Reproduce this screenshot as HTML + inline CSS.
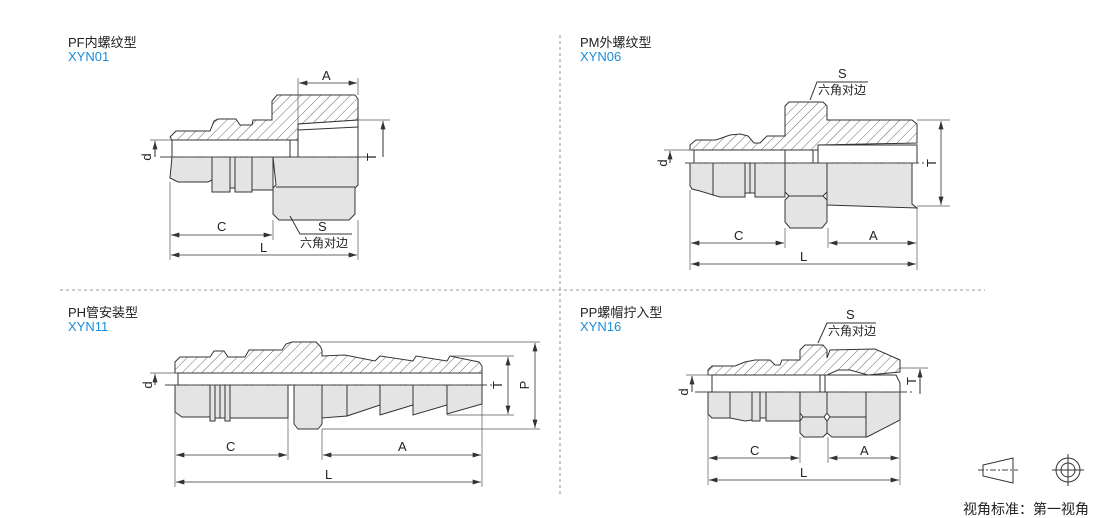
<!DOCTYPE html>
<html><head><meta charset="utf-8"><style>
html,body{margin:0;padding:0;background:#fff;}
svg{display:block;}
text{font-family:"Liberation Sans","Noto Sans CJK SC",sans-serif;fill:#222;}
.t{font-size:13px;}
.b{font-size:13px;fill:#1a8cd8;}
.lb{font-size:13px;}
.ln{stroke:#333;stroke-width:1;fill:none;}
.hs{fill:url(#h);stroke:#333;stroke-width:1;}
.g{fill:#e4e4e4;stroke:#333;stroke-width:1;}
.w{fill:#fff;stroke:#333;stroke-width:1;}
.cl{stroke:#444;stroke-width:1;stroke-dasharray:14,3,2,3;fill:none;}
.dim{stroke:#333;stroke-width:0.8;fill:none;marker-start:url(#a);marker-end:url(#a);}
.ext{stroke:#555;stroke-width:0.7;fill:none;}
</style></head><body>
<svg width="1110" height="518" viewBox="0 0 1110 518" xmlns="http://www.w3.org/2000/svg">
<defs>
<pattern id="h" width="7" height="7" patternUnits="userSpaceOnUse" patternTransform="rotate(45)">
<rect width="7" height="7" fill="#fff"/><line x1="0" y1="0" x2="0" y2="7" stroke="#444" stroke-width="0.8"/>
</pattern>
<marker id="a" viewBox="0 0 10 6" refX="10" refY="3" markerWidth="9" markerHeight="5" markerUnits="userSpaceOnUse" orient="auto-start-reverse">
<path d="M10,3 L0,0 L0,6 Z" fill="#333"/>
</marker>
</defs>

<line x1="560" y1="35" x2="560" y2="495" stroke="#999" stroke-dasharray="3,3"/>
<line x1="60" y1="290" x2="985" y2="290" stroke="#999" stroke-dasharray="3,3"/>

<text class="t" x="68" y="47">PF内螺纹型</text><text class="b" x="68" y="61">XYN01</text>
<text class="t" x="580" y="47">PM外螺纹型</text><text class="b" x="580" y="61">XYN06</text>
<text class="t" x="68" y="317">PH管安装型</text><text class="b" x="68" y="331">XYN11</text>
<text class="t" x="580" y="317">PP螺帽拧入型</text><text class="b" x="580" y="331">XYN16</text>

<!-- Drawing 1 PF -->
<path class="hs" d="M170,137 L176,131 L210,131 L214,121 L218,119 L236,119 L240,125 L252,125 L253,120 L272,120 L272,101 L277,95 L355,95 L358,99 L358,120 L298,124 L298,140 L172,140 Z"/>
<path class="w" d="M298,124 L358,120 L358,157 L298,157 Z"/>
<line class="ln" x1="298" y1="130" x2="358" y2="127"/>
<rect class="w" x="172" y="140" width="118" height="17"/>
<path class="g" d="M172,157 L212,157 L212,180 L208,182 L178,182 L170,178 Z"/>
<rect class="g" x="212" y="157" width="18" height="35"/>
<rect class="g" x="230" y="157" width="5" height="31"/>
<rect class="g" x="235" y="157" width="17" height="35"/>
<rect class="g" x="252" y="157" width="21" height="33"/>
<path class="g" d="M273,157 L358,157 L358,185 L355,188 L355,214 L349,220 L279,220 L273,214 L273,188 L276,185 Z"/>
<line class="ln" x1="276" y1="187" x2="355" y2="187"/>
<line class="cl" x1="160" y1="157" x2="372" y2="157"/>
<line class="ext" x1="150" y1="140" x2="172" y2="140"/>
<line class="ext" x1="298" y1="78" x2="298" y2="124"/>
<line class="ext" x1="358" y1="78" x2="358" y2="95"/>
<line class="dim" x1="299" y1="83" x2="357" y2="83"/>
<text class="lb" x="322" y="80">A</text>
<line class="ext" x1="358" y1="120" x2="390" y2="120"/>
<path class="ln" d="M383,157 L383,121" marker-end="url(#a)"/>
<text class="lb" transform="translate(372,157) rotate(-90)" text-anchor="middle" x="0" y="4">T</text>
<path class="ln" d="M155,157 L155,141" marker-end="url(#a)"/>
<text class="lb" transform="translate(147,157) rotate(-90)" x="0" y="4" text-anchor="middle">d</text>
<line class="ext" x1="170" y1="182" x2="170" y2="260"/>
<line class="ext" x1="273" y1="220" x2="273" y2="240"/>
<line class="ext" x1="358" y1="220" x2="358" y2="260"/>
<line class="dim" x1="171" y1="235" x2="272" y2="235"/>
<text class="lb" x="217" y="231">C</text>
<line class="dim" x1="171" y1="255" x2="357" y2="255"/>
<text class="lb" x="260" y="252">L</text>
<text class="lb" x="318" y="231">S</text>
<text class="lb" x="300" y="247" style="font-size:12px">六角对边</text>
<path class="ln" d="M352,234 L300,234 L290,216"/>

<!-- Drawing 2 PM -->
<path class="hs" d="M690,145 L696,140 L716,140 L730,135 L740,134 L748,136 L754,143 L760,143 L767,136 L785,136 L785,106 L789,102 L823,102 L827,106 L827,120 L912,120 L917,124 L917,143 L818,145 L818,150 L690,150 Z"/>
<rect class="w" x="694" y="150" width="91" height="13"/>
<rect class="w" x="818" y="145" width="99" height="18"/>
<line class="ln" x1="813" y1="150" x2="813" y2="163"/>
<line class="ln" x1="818" y1="150" x2="818" y2="163"/>
<path class="g" d="M690,163 L713,163 L713,195 L700,191 L692,189 L690,186 Z"/>
<path class="g" d="M713,163 L745,163 L745,197 L720,197 L713,195 Z"/>
<rect class="g" x="745" y="163" width="5" height="30"/>
<rect class="g" x="750" y="163" width="5" height="30"/>
<rect class="g" x="755" y="163" width="30" height="34"/>
<path class="g" d="M785,163 L827,163 L827,192 L823,196 L827,200 L827,222 L822,228 L790,228 L785,222 L785,200 L789,196 L785,192 Z"/>
<line class="ln" x1="789" y1="196" x2="823" y2="196"/>
<path class="g" d="M827,163 L912,163 L912,204 L917,208 L827,205 Z"/>
<line class="cl" x1="685" y1="163" x2="925" y2="163"/>
<line class="ext" x1="664" y1="150" x2="694" y2="150"/>
<path class="ln" d="M670,163 L670,151" marker-end="url(#a)"/>
<text class="lb" transform="translate(663,163) rotate(-90)" x="0" y="4" text-anchor="middle">d</text>
<line class="ext" x1="917" y1="120" x2="950" y2="120"/>
<line class="ext" x1="917" y1="206" x2="950" y2="206"/>
<line class="dim" x1="941" y1="121" x2="941" y2="205"/>
<text class="lb" transform="translate(932,163) rotate(-90)" x="0" y="4" text-anchor="middle">T</text>
<line class="ext" x1="690" y1="190" x2="690" y2="270"/>
<line class="ext" x1="785" y1="228" x2="785" y2="248"/>
<line class="ext" x1="828" y1="228" x2="828" y2="248"/>
<line class="ext" x1="917" y1="208" x2="917" y2="270"/>
<line class="dim" x1="691" y1="243" x2="784" y2="243"/>
<text class="lb" x="734" y="240">C</text>
<line class="dim" x1="829" y1="243" x2="916" y2="243"/>
<text class="lb" x="869" y="240">A</text>
<line class="dim" x1="691" y1="264" x2="916" y2="264"/>
<text class="lb" x="800" y="261">L</text>
<text class="lb" x="838" y="78">S</text>
<text class="lb" x="818" y="94" style="font-size:12px">六角对边</text>
<path class="ln" d="M868,82 L817,82 L810,100"/>

<!-- Drawing 3 PH -->
<path class="hs" d="M175,362 L180,357 L210,357 L214,351 L224,351 L228,357 L245,357 L249,350 L282,350 L286,344 L292,342 L316,342 L320,346 L322,350 L322,356 L345,355 L375,361 L380,356 L413,361 L416,356 L447,361 L450,356 L479,362 L482,366 L482,373 L175,373 Z"/>
<rect class="w" x="178" y="373" width="304" height="12"/>
<path class="g" d="M175,385 L210,385 L210,417 L182,417 L175,412 Z"/>
<rect class="g" x="210" y="385" width="5" height="36"/>
<rect class="g" x="215" y="385" width="5" height="33"/>
<rect class="g" x="220" y="385" width="5" height="33"/>
<rect class="g" x="225" y="385" width="5" height="36"/>
<rect class="g" x="230" y="385" width="58" height="33"/>
<path class="g" d="M294,385 L322,385 L322,424 L318,429 L298,429 L294,424 Z"/>
<path class="g" d="M322,385 L347,385 L347,416 L322,418 Z"/>
<path class="g" d="M347,385 L380,385 L380,405 L347,416 Z"/>
<path class="g" d="M380,385 L413,385 L413,405 L380,415 Z"/>
<path class="g" d="M413,385 L447,385 L447,405 L413,415 Z"/>
<path class="g" d="M447,385 L482,385 L482,404 L447,414 Z"/>
<line class="cl" x1="165" y1="385" x2="495" y2="385"/>
<line class="ext" x1="150" y1="373" x2="178" y2="373"/>
<path class="ln" d="M155,385 L155,374" marker-end="url(#a)"/>
<text class="lb" transform="translate(148,385) rotate(-90)" x="0" y="4" text-anchor="middle">d</text>
<line class="ext" x1="320" y1="342" x2="540" y2="342"/>
<line class="ext" x1="450" y1="356" x2="514" y2="356"/>
<line class="ext" x1="447" y1="415" x2="514" y2="415"/>
<line class="ext" x1="322" y1="429" x2="540" y2="429"/>
<line class="dim" x1="508" y1="357" x2="508" y2="414"/>
<text class="lb" transform="translate(498,385) rotate(-90)" x="0" y="4" text-anchor="middle">T</text>
<line class="dim" x1="535" y1="343" x2="535" y2="428"/>
<text class="lb" transform="translate(525,385) rotate(-90)" x="0" y="4" text-anchor="middle">P</text>
<line class="ext" x1="175" y1="412" x2="175" y2="487"/>
<line class="ext" x1="288" y1="418" x2="288" y2="460"/>
<line class="ext" x1="322" y1="429" x2="322" y2="460"/>
<line class="ext" x1="482" y1="404" x2="482" y2="487"/>
<line class="dim" x1="176" y1="455" x2="287" y2="455"/>
<text class="lb" x="226" y="451">C</text>
<line class="dim" x1="323" y1="455" x2="481" y2="455"/>
<text class="lb" x="398" y="451">A</text>
<line class="dim" x1="176" y1="482" x2="481" y2="482"/>
<text class="lb" x="325" y="479">L</text>

<!-- Drawing 4 PP -->
<path class="hs" d="M708,370 L712,366 L735,366 L745,362 L755,360 L770,360 L775,365 L780,365 L782,360 L800,360 L800,350 L805,345 L823,345 L827,350 L827,358 L830,350 L875,349 L900,360 L900,372 L868,375 L850,370 L838,370 L827,375 L708,375 Z"/>
<rect class="w" x="712" y="375" width="108" height="17"/>
<path class="w" d="M825,375 L896,375 L900,383 L900,392 L825,392 Z"/>
<line class="ln" x1="820" y1="375" x2="820" y2="392"/>
<line class="ln" x1="825" y1="375" x2="825" y2="392"/>
<path class="g" d="M708,392 L730,392 L730,418 L712,418 L708,414 Z"/>
<path class="g" d="M730,392 L752,392 L752,420 L745,421 L730,418 Z"/>
<rect class="g" x="752" y="392" width="8" height="29"/>
<rect class="g" x="760" y="392" width="6" height="26"/>
<rect class="g" x="766" y="392" width="34" height="29"/>
<path class="g" d="M800,392 L827,392 L827,413 L824,417 L827,421 L827,433 L823,437 L804,437 L800,433 L800,421 L803,417 L800,413 Z"/>
<line class="ln" x1="803" y1="417" x2="824" y2="417"/>
<path class="g" d="M827,392 L867,392 L900,392 L900,420 L867,437 L832,437 L827,433 L827,421 L830,417 L827,413 Z"/>
<line class="ln" x1="830" y1="417" x2="866" y2="417"/>
<line class="ln" x1="866" y1="392" x2="866" y2="437"/>
<line class="cl" x1="695" y1="392" x2="915" y2="392"/>
<line class="ext" x1="686" y1="375" x2="712" y2="375"/>
<path class="ln" d="M692,392 L692,376" marker-end="url(#a)"/>
<text class="lb" transform="translate(684,392) rotate(-90)" x="0" y="4" text-anchor="middle">d</text>
<line class="ext" x1="900" y1="368" x2="928" y2="368"/>
<path class="ln" d="M920,394 L920,369" marker-end="url(#a)"/>
<text class="lb" transform="translate(912,381) rotate(-90)" x="0" y="4" text-anchor="middle">T</text>
<line class="ext" x1="708" y1="414" x2="708" y2="485"/>
<line class="ext" x1="800" y1="437" x2="800" y2="463"/>
<line class="ext" x1="828" y1="437" x2="828" y2="463"/>
<line class="ext" x1="900" y1="420" x2="900" y2="485"/>
<line class="dim" x1="709" y1="458" x2="799" y2="458"/>
<text class="lb" x="750" y="455">C</text>
<line class="dim" x1="829" y1="458" x2="899" y2="458"/>
<text class="lb" x="860" y="455">A</text>
<line class="dim" x1="709" y1="480" x2="899" y2="480"/>
<text class="lb" x="800" y="477">L</text>
<text class="lb" x="846" y="319">S</text>
<text class="lb" x="828" y="335" style="font-size:12px">六角对边</text>
<path class="ln" d="M876,323 L827,323 L818,343"/>

<!-- view symbol -->
<path class="ln" d="M983,465 L1013,458 L1013,483 L983,476 Z"/>
<line class="cl" x1="978" y1="470" x2="1018" y2="470" style="stroke-dasharray:6,2,2,2"/>
<circle class="ln" cx="1068" cy="470" r="12"/>
<circle class="ln" cx="1068" cy="470" r="7"/>
<line class="ln" x1="1052" y1="470" x2="1084" y2="470"/>
<line class="ln" x1="1068" y1="454" x2="1068" y2="486"/>
<text x="963" y="514" style="font-size:14px">视角标准：第一视角</text>
</svg>
</body></html>
